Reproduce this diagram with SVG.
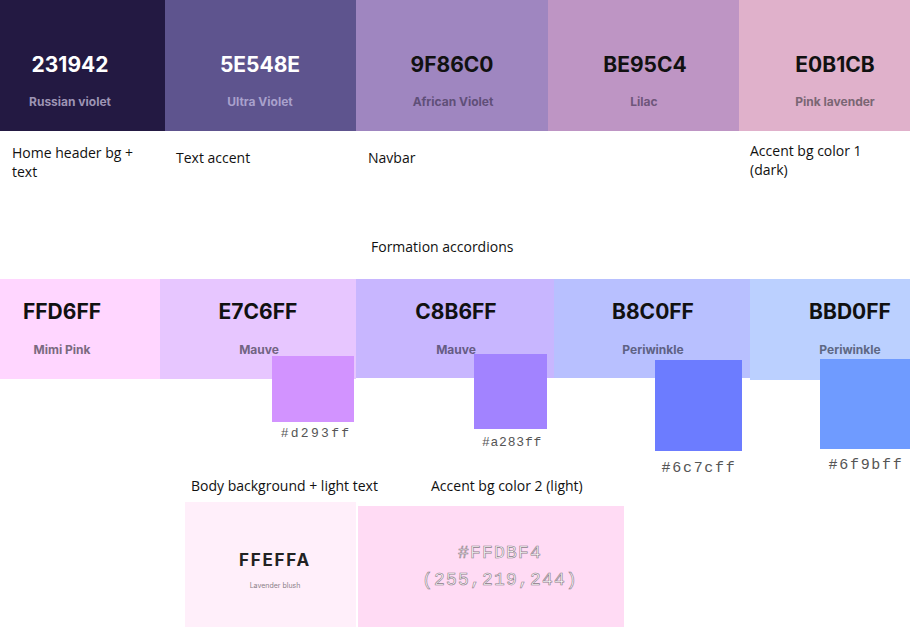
<svg xmlns="http://www.w3.org/2000/svg" width="910" height="627" viewBox="0 0 910 627">
<style>
.hex{font-family:Inter,"Liberation Sans",sans-serif;font-weight:700;font-size:21px;text-anchor:middle}
.nm{font-family:Inter,"Liberation Sans",sans-serif;font-weight:700;font-size:12px;text-anchor:middle}
.ann{font-family:"Open Sans","Noto Sans","Liberation Sans",sans-serif;font-size:14px;fill:#111}
.code{font-family:"Liberation Mono","DejaVu Sans Mono",monospace;fill:#555;text-anchor:middle}
.big{font-size:18px;fill:#fff;stroke:#8a7a86;stroke-width:0.6px;letter-spacing:1.2px}
</style>
<rect width="910" height="627" fill="#fff"/>
<g id="russian-violet"><rect x="0" y="0" width="165" height="131" fill="#231942"/><text class="hex" x="70" y="72" fill="#fff">231942</text><text class="nm" x="70" y="106" fill="#9d94b4">Russian violet</text></g>
<g id="ultra-violet"><rect x="165" y="0" width="191" height="131" fill="#5e548e"/><text class="hex" x="260" y="72" fill="#fff">5E548E</text><text class="nm" x="260" y="106" fill="#a9a1cc">Ultra Violet</text></g>
<g id="african-violet"><rect x="356" y="0" width="192" height="131" fill="#9f86c0"/><text class="hex" x="452" y="72" fill="#111">9F86C0</text><text class="nm" x="453" y="106" fill="#5f4f78">African Violet</text></g>
<g id="lilac"><rect x="548" y="0" width="191" height="131" fill="#be95c4"/><text class="hex" x="645" y="72" fill="#111">BE95C4</text><text class="nm" x="644" y="106" fill="#6e567a">Lilac</text></g>
<g id="pink-lavender"><rect x="739" y="0" width="171" height="131" fill="#e0b1cb"/><text class="hex" x="835" y="72" fill="#111">E0B1CB</text><text class="nm" x="835" y="106" fill="#7a6674">Pink lavender</text></g>
<g id="annotations-top">
<text class="ann" x="12" y="158">Home header bg +</text><text class="ann" x="12" y="177">text</text>
<text class="ann" x="176" y="163">Text accent</text>
<text class="ann" x="368" y="163">Navbar</text>
<text class="ann" x="750" y="156">Accent bg color 1</text><text class="ann" x="750" y="175">(dark)</text>
<text class="ann" x="371" y="252">Formation accordions</text>
</g>
<g id="mimi-pink"><rect x="0" y="279" width="160" height="100" fill="#ffd6ff"/><text class="hex" x="62" y="319" fill="#111">FFD6FF</text><text class="nm" x="62" y="354" fill="#7a6a80">Mimi Pink</text></g>
<g id="mauve-1"><rect x="160" y="279" width="196" height="100" fill="#e7c6ff"/><text class="hex" x="258" y="319" fill="#111">E7C6FF</text><text class="nm" x="259" y="354" fill="#726482">Mauve</text></g>
<g id="mauve-2"><rect x="356" y="279" width="198" height="99" fill="#c8b6ff"/><text class="hex" x="456" y="319" fill="#111">C8B6FF</text><text class="nm" x="456" y="354" fill="#665c84">Mauve</text></g>
<g id="periwinkle-1"><rect x="554" y="279" width="196" height="99" fill="#b8c0ff"/><text class="hex" x="653" y="319" fill="#111">B8C0FF</text><text class="nm" x="653" y="354" fill="#5e6284">Periwinkle</text></g>
<g id="periwinkle-2"><rect x="750" y="279" width="160" height="101" fill="#bbd0ff"/><text class="hex" x="850" y="319" fill="#111">BBD0FF</text><text class="nm" x="850" y="354" fill="#5e6884">Periwinkle</text></g>
<g id="swatch-d293ff"><rect x="272" y="356" width="82" height="66" fill="#d293ff"/><text class="code" x="316" y="437" style="font-size:13px;letter-spacing:2.3px">#d293ff</text></g>
<g id="swatch-a283ff"><rect x="474" y="354" width="73" height="75" fill="#a283ff"/><text class="code" x="512" y="446" style="font-size:13px;letter-spacing:0.8px">#a283ff</text></g>
<g id="swatch-6c7cff"><rect x="655" y="360" width="87" height="91" fill="#6c7cff"/><text class="code" x="699" y="472" style="font-size:15px;letter-spacing:1.7px">#6c7cff</text></g>
<g id="swatch-6f9bff"><rect x="820" y="359" width="90" height="90" fill="#6f9bff"/><text class="code" x="866" y="469" style="font-size:15px;letter-spacing:1.7px">#6f9bff</text></g>
<g id="lavender-blush">
<text class="ann" x="191" y="491">Body background + light text</text>
<rect x="185" y="502" width="171" height="125" fill="#ffeffa"/>
<text class="hex" x="275" y="566" fill="#222" style="font-size:17px;letter-spacing:1.8px">FFEFFA</text>
<text class="nm" x="275" y="588" fill="#8a8088" style="font-size:7px;font-weight:400">Lavender blush</text>
</g>
<g id="accent-light">
<text class="ann" x="431" y="491">Accent bg color 2 (light)</text>
<rect x="358" y="506" width="266" height="121" fill="#ffdbf4"/>
<text class="code big" x="500" y="558">#FFDBF4</text>
<text class="code big" x="500" y="585">(255,219,244)</text>
</g>
</svg>
